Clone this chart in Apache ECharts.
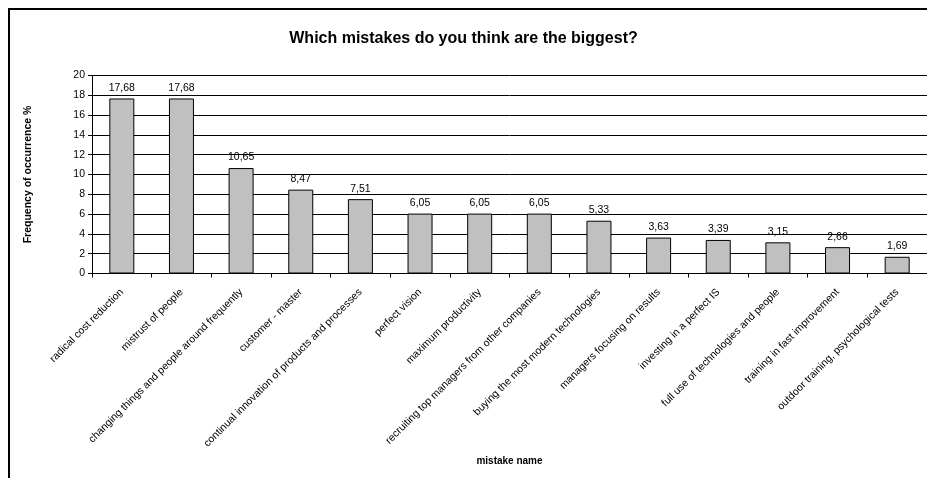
<!DOCTYPE html>
<html>
<head>
<meta charset="utf-8">
<script src="https://cdn.jsdelivr.net/npm/echarts@6/dist/echarts.min.js"></script>
<style>html,body{margin:0;padding:0;background:#fff;}#chart{width:927px;height:478px;}</style>
</head>
<body>
<div id="chart"></div>
<script>
const categories = [
  "radical cost reduction",
  "mistrust of people",
  "changing things and people around frequently",
  "customer - master",
  "continual innovation of products and processes",
  "perfect vision",
  "maximum productivity",
  "recruiting top managers from other companies",
  "buying the most modern technologies",
  "managers focusing on results",
  "investing in a perfect IS",
  "full use of technologies and people",
  "training in fast improvement",
  "outdoor training, psychological tests"
];
const values = [17.68, 17.68, 10.65, 8.47, 7.51, 6.05, 6.05, 6.05, 5.33, 3.63, 3.39, 3.15, 2.66, 1.69];
const titleText = "Which mistakes do you think are the biggest?";
const yAxisName = "Frequency of occurrence %";
const xAxisName = "mistake name";

const FONT = "'Liberation Sans', Arial, sans-serif";
const chart = echarts.init(document.getElementById('chart'), null, {renderer: 'canvas'});
chart.setOption({
  animation: false,
  backgroundColor: '#fff',
  title: {
    text: titleText,
    left: 'center',
    top: 26,
    textStyle: {fontFamily: FONT, fontSize: 16, fontWeight: 'bold', color: '#000'}
  },
  graphic: [{
    type: 'rect',
    shape: {x: 9, y: 9, width: 1000, height: 1000},
    style: {fill: 'none', stroke: '#000', lineWidth: 2}
  }],
  grid: {left: 92, right: -6, top: 75.5, bottom: 204.5, containLabel: false},
  xAxis: {
    type: 'category',
    data: categories,
    name: xAxisName,
    nameLocation: 'middle',
    nameGap: 183,
    nameTextStyle: {fontFamily: FONT, fontSize: 10, fontWeight: 'bold', color: '#000'},
    axisLine: {lineStyle: {color: '#000', width: 1}},
    axisTick: {show: true, length: 4, lineStyle: {color: '#000'}},
    axisLabel: {rotate: 45, interval: 0, margin: 17, fontFamily: FONT, fontSize: 10.5, color: '#000'}
  },
  yAxis: {
    type: 'value',
    min: 0, max: 20, interval: 2,
    name: yAxisName,
    nameLocation: 'middle',
    nameGap: 58,
    nameRotate: 90,
    nameTextStyle: {fontFamily: FONT, fontSize: 10.5, fontWeight: 'bold', color: '#000'},
    axisLine: {show: true, lineStyle: {color: '#000', width: 1}},
    axisTick: {show: true, length: 4, lineStyle: {color: '#000'}},
    axisLabel: {margin: 7, fontFamily: FONT, fontSize: 10.5, color: '#000'},
    splitLine: {show: true, lineStyle: {color: '#000', width: 1}}
  },
  series: [{
    type: 'bar',
    data: values,
    barWidth: 25,
    itemStyle: {color: '#c0c0c0', borderColor: '#000', borderWidth: 1},
    label: {
      show: true, position: 'top', distance: 5,
      fontFamily: FONT, fontSize: 10.5, color: '#000',
      formatter: p => p.value.toFixed(2).replace('.', ',')
    }
  }]
});
</script>
</body>
</html>
